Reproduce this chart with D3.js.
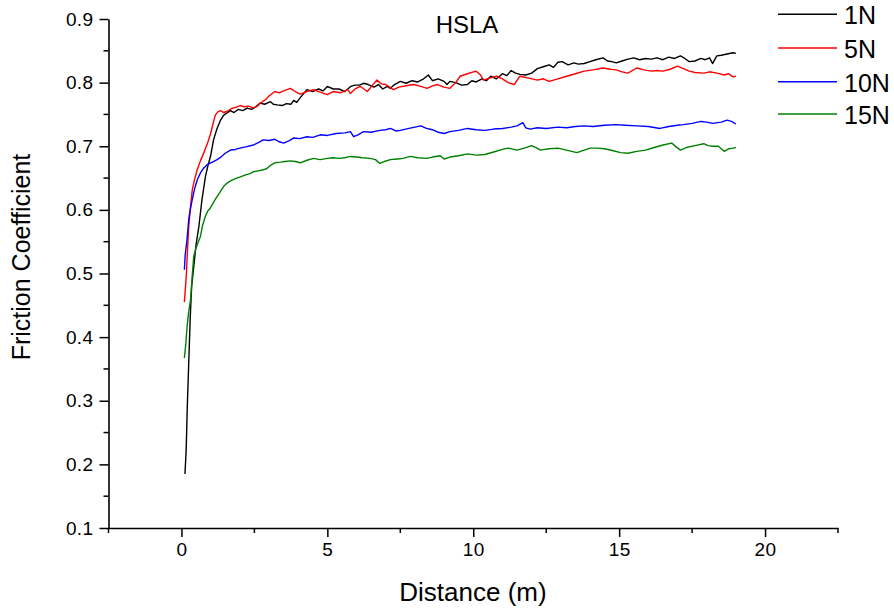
<!DOCTYPE html>
<html><head><meta charset="utf-8">
<script src="https://cdn.jsdelivr.net/npm/d3@7"></script>
<style>
html,body{margin:0;padding:0;background:#fff;}
text{font-family:"Liberation Sans",Arial,sans-serif;fill:#000;}
</style></head>
<body><svg id="c" width="894" height="613"></svg>
<script>
const chartTitle = "HSLA";
const xLabel = "Distance (m)";
const yLabel = "Friction Coefficient";
const seriesNames = ["1N","5N","10N","15N"];
const seriesColors = ["#000000","#ff0000","#0000ff","#008000"];
const xTicks = [0,5,10,15,20];
const yTicks = [0.1,0.2,0.3,0.4,0.5,0.6,0.7,0.8,0.9];

const data1N = [[0.12,0.185],[0.16,0.22],[0.2,0.29],[0.25,0.36],[0.3,0.43],[0.35,0.48],[0.42,0.51],[0.5,0.545],[0.6,0.575],[0.7,0.615],[0.82,0.652],[0.9,0.668],[1.0,0.685],[1.1,0.71],[1.22,0.728],[1.35,0.742],[1.45,0.749],[1.55,0.752],[1.68,0.756],[1.8,0.753],[1.95,0.758],[2.1,0.756],[2.25,0.76],[2.4,0.758],[2.55,0.762],[2.7,0.768],[2.85,0.766],[3.05,0.77],[3.15,0.766],[3.28,0.765],[3.45,0.764],[3.6,0.767],[3.75,0.766],[3.85,0.772],[3.95,0.769],[4.1,0.778],[4.3,0.789],[4.5,0.786],[4.7,0.79],[4.85,0.787],[5.0,0.794],[5.2,0.79],[5.4,0.79],[5.6,0.786],[5.8,0.794],[5.95,0.796],[6.1,0.796],[6.24,0.799],[6.4,0.797],[6.6,0.793],[6.75,0.797],[6.9,0.79],[7.05,0.794],[7.16,0.791],[7.3,0.797],[7.5,0.802],[7.7,0.799],[7.9,0.803],[8.1,0.801],[8.3,0.806],[8.46,0.812],[8.6,0.803],[8.8,0.806],[9.0,0.802],[9.1,0.797],[9.2,0.802],[9.4,0.8],[9.6,0.796],[9.8,0.797],[9.95,0.803],[10.1,0.801],[10.3,0.806],[10.45,0.803],[10.6,0.81],[10.8,0.806],[11.0,0.814],[11.15,0.811],[11.3,0.819],[11.45,0.815],[11.6,0.813],[11.8,0.812],[12.0,0.815],[12.2,0.822],[12.4,0.825],[12.6,0.828],[12.75,0.824],[12.9,0.832],[13.05,0.833],[13.25,0.828],[13.45,0.831],[13.6,0.829],[13.8,0.83],[14.0,0.833],[14.2,0.836],[14.45,0.839],[14.6,0.834],[14.75,0.833],[14.9,0.831],[15.1,0.834],[15.3,0.837],[15.5,0.839],[15.7,0.836],[15.9,0.838],[16.1,0.837],[16.3,0.839],[16.5,0.836],[16.7,0.84],[16.9,0.838],[17.1,0.842],[17.25,0.838],[17.4,0.833],[17.6,0.834],[17.8,0.838],[17.95,0.836],[18.1,0.839],[18.2,0.83],[18.3,0.838],[18.35,0.842],[18.5,0.843],[18.7,0.845],[18.9,0.847],[19.0,0.846]];

const data5N = [[0.1,0.455],[0.14,0.48],[0.17,0.5],[0.21,0.54],[0.25,0.574],[0.3,0.6],[0.37,0.631],[0.45,0.648],[0.54,0.663],[0.65,0.677],[0.77,0.69],[0.88,0.703],[1.0,0.72],[1.08,0.735],[1.16,0.749],[1.25,0.754],[1.34,0.756],[1.45,0.753],[1.57,0.755],[1.7,0.759],[1.85,0.761],[2.02,0.764],[2.15,0.762],[2.3,0.763],[2.47,0.76],[2.6,0.763],[2.7,0.768],[2.85,0.772],[3.0,0.779],[3.2,0.786],[3.35,0.784],[3.5,0.787],[3.73,0.791],[3.9,0.786],[4.07,0.782],[4.3,0.786],[4.53,0.789],[4.75,0.785],[5.0,0.781],[5.2,0.786],[5.45,0.784],[5.7,0.789],[5.79,0.783],[5.95,0.79],[6.13,0.794],[6.25,0.79],[6.37,0.786],[6.55,0.796],[6.7,0.804],[6.85,0.798],[7.0,0.797],[7.26,0.789],[7.45,0.793],[7.7,0.795],[7.95,0.797],[8.2,0.794],[8.42,0.791],[8.6,0.795],[8.77,0.797],[9.0,0.793],[9.2,0.791],[9.4,0.8],[9.55,0.81],[9.8,0.814],[10.1,0.818],[10.25,0.812],[10.35,0.804],[10.55,0.807],[10.8,0.81],[11.0,0.806],[11.2,0.8],[11.4,0.797],[11.6,0.81],[11.9,0.807],[12.2,0.804],[12.4,0.806],[12.6,0.802],[12.9,0.806],[13.2,0.81],[13.5,0.814],[13.8,0.818],[14.1,0.82],[14.45,0.823],[14.7,0.821],[14.9,0.82],[15.1,0.817],[15.3,0.815],[15.6,0.823],[15.85,0.82],[16.1,0.818],[16.3,0.819],[16.5,0.818],[16.75,0.821],[17.0,0.826],[17.2,0.822],[17.4,0.818],[17.6,0.816],[17.9,0.815],[18.1,0.817],[18.35,0.815],[18.6,0.812],[18.75,0.814],[18.9,0.809],[19.0,0.81]];

const data10N = [[0.1,0.506],[0.13,0.53],[0.19,0.553],[0.25,0.585],[0.3,0.6],[0.37,0.616],[0.45,0.633],[0.54,0.647],[0.65,0.658],[0.75,0.665],[0.88,0.671],[1.0,0.674],[1.1,0.676],[1.22,0.679],[1.35,0.683],[1.5,0.689],[1.68,0.694],[1.85,0.695],[2.0,0.697],[2.2,0.699],[2.47,0.702],[2.65,0.706],[2.8,0.71],[3.0,0.709],[3.2,0.711],[3.35,0.707],[3.5,0.705],[3.7,0.709],[3.85,0.713],[4.05,0.712],[4.3,0.715],[4.5,0.714],[4.76,0.718],[5.0,0.717],[5.3,0.72],[5.6,0.721],[5.79,0.723],[5.9,0.715],[6.05,0.718],[6.24,0.723],[6.5,0.722],[6.8,0.725],[7.0,0.726],[7.16,0.728],[7.35,0.724],[7.5,0.725],[7.8,0.728],[8.0,0.73],[8.2,0.732],[8.4,0.728],[8.6,0.726],[8.8,0.722],[9.0,0.72],[9.2,0.723],[9.5,0.725],[9.8,0.728],[10.1,0.726],[10.4,0.725],[10.7,0.727],[11.0,0.728],[11.3,0.73],[11.5,0.732],[11.7,0.737],[11.8,0.729],[11.95,0.727],[12.2,0.729],[12.5,0.728],[12.9,0.73],[13.2,0.729],[13.5,0.731],[13.8,0.732],[14.1,0.731],[14.5,0.733],[14.9,0.734],[15.2,0.733],[15.6,0.732],[16.0,0.731],[16.4,0.728],[16.7,0.731],[17.0,0.733],[17.2,0.734],[17.5,0.736],[17.8,0.739],[18.0,0.738],[18.2,0.736],[18.5,0.738],[18.7,0.741],[18.85,0.739],[19.0,0.735]];

const data15N = [[0.1,0.367],[0.15,0.39],[0.2,0.42],[0.25,0.44],[0.31,0.458],[0.36,0.49],[0.42,0.527],[0.5,0.54],[0.58,0.55],[0.65,0.558],[0.72,0.575],[0.82,0.59],[0.9,0.598],[0.99,0.603],[1.1,0.612],[1.22,0.621],[1.35,0.63],[1.45,0.637],[1.56,0.642],[1.7,0.646],[1.85,0.649],[2.02,0.652],[2.2,0.655],[2.35,0.657],[2.47,0.66],[2.6,0.661],[2.8,0.663],[2.93,0.665],[3.05,0.67],[3.2,0.674],[3.4,0.675],[3.55,0.676],[3.73,0.677],[3.9,0.676],[4.07,0.674],[4.3,0.678],[4.53,0.681],[4.75,0.679],[5.0,0.681],[5.2,0.682],[5.4,0.681],[5.6,0.682],[5.79,0.684],[6.0,0.683],[6.2,0.682],[6.47,0.681],[6.65,0.679],[6.8,0.673],[6.95,0.676],[7.16,0.679],[7.4,0.68],[7.6,0.681],[7.84,0.684],[8.1,0.682],[8.42,0.681],[8.6,0.683],[8.87,0.685],[9.0,0.68],[9.2,0.683],[9.5,0.685],[9.8,0.688],[10.1,0.686],[10.4,0.687],[10.7,0.691],[11.0,0.695],[11.2,0.697],[11.5,0.694],[11.75,0.697],[12.0,0.701],[12.15,0.698],[12.3,0.694],[12.6,0.696],[12.9,0.697],[13.2,0.694],[13.55,0.69],[13.8,0.694],[14.0,0.697],[14.25,0.697],[14.5,0.696],[14.8,0.693],[15.05,0.69],[15.3,0.689],[15.6,0.692],[15.9,0.694],[16.2,0.698],[16.5,0.702],[16.8,0.705],[16.95,0.699],[17.1,0.694],[17.3,0.698],[17.6,0.701],[17.9,0.704],[18.05,0.701],[18.2,0.7],[18.4,0.7],[18.6,0.692],[18.75,0.696],[18.9,0.697],[19.0,0.698]];

const allSeries = [data1N, data5N, data10N, data15N];

const svg = d3.select("#c");
const x = d3.scaleLinear().domain([-2.5, 22.5]).range([108.5, 838]);
const y = d3.scaleLinear().domain([0.1, 0.9]).range([528, 19]);

const xMinor = d3.range(-2.5, 22.51, 2.5).filter(v => Math.abs(v/5 - Math.round(v/5)) > 1e-6);
const yMinor = d3.range(0.15, 0.9, 0.1);

const gx = svg.append("g").attr("transform","translate(0,528)")
  .call(d3.axisBottom(x).tickValues(xTicks).tickFormat(d3.format("d")).tickSize(9).tickPadding(6).tickSizeOuter(0));
gx.append("g").selectAll("line").data(xMinor).join("line")
  .attr("x1", d=>x(d)).attr("x2", d=>x(d)).attr("y1",0).attr("y2",5).attr("stroke","#000").attr("stroke-width",1.5);

const gy = svg.append("g").attr("transform","translate(108.5,0)")
  .call(d3.axisLeft(y).tickValues(yTicks).tickFormat(d3.format(".1f")).tickSize(9).tickPadding(6).tickSizeOuter(0));
gy.append("g").selectAll("line").data(yMinor).join("line")
  .attr("y1", d=>y(d)).attr("y2", d=>y(d)).attr("x1",0).attr("x2",-5).attr("stroke","#000").attr("stroke-width",1.5);

[gx, gy].forEach(g => {
  g.attr("font-size",null).attr("font-family",null);
  g.select(".domain").attr("stroke","#000").attr("stroke-width",1.6);
  g.selectAll(".tick line").attr("stroke","#000").attr("stroke-width",1.5);
  g.selectAll(".tick text").style("font-family","'Liberation Sans',Arial,sans-serif")
    .style("font-size","19px").attr("letter-spacing","0.4px").attr("fill","#000");
});

const line = d3.line().x(d=>x(d[0])).y(d=>y(d[1]));
svg.append("g").selectAll("path").data(allSeries).join("path")
  .attr("d", line).attr("fill","none")
  .attr("stroke",(d,i)=>seriesColors[i]).attr("stroke-width",1.4).attr("stroke-linejoin","round");

svg.append("text").attr("x",467).attr("y",33).attr("text-anchor","middle")
  .style("font-size","24px").text(chartTitle);
svg.append("text").attr("x",473).attr("y",601).attr("text-anchor","middle")
  .style("font-size","26px").text(xLabel);
svg.append("text").attr("transform","translate(30,257) rotate(-90)").attr("text-anchor","middle")
  .style("font-size","25px").text(yLabel);

const leg = svg.append("g").selectAll("g").data(seriesNames).join("g")
  .attr("transform",(d,i)=>`translate(0,${[14.3,48,81.7,114][i]})`);
leg.append("line").attr("x1",778).attr("x2",837).attr("y1",0).attr("y2",0)
  .attr("stroke",(d,i)=>seriesColors[i]).attr("stroke-width",1.6);
leg.append("text").attr("x",844).attr("y",10).style("font-size","25px").text(d=>d);
</script></body></html>
